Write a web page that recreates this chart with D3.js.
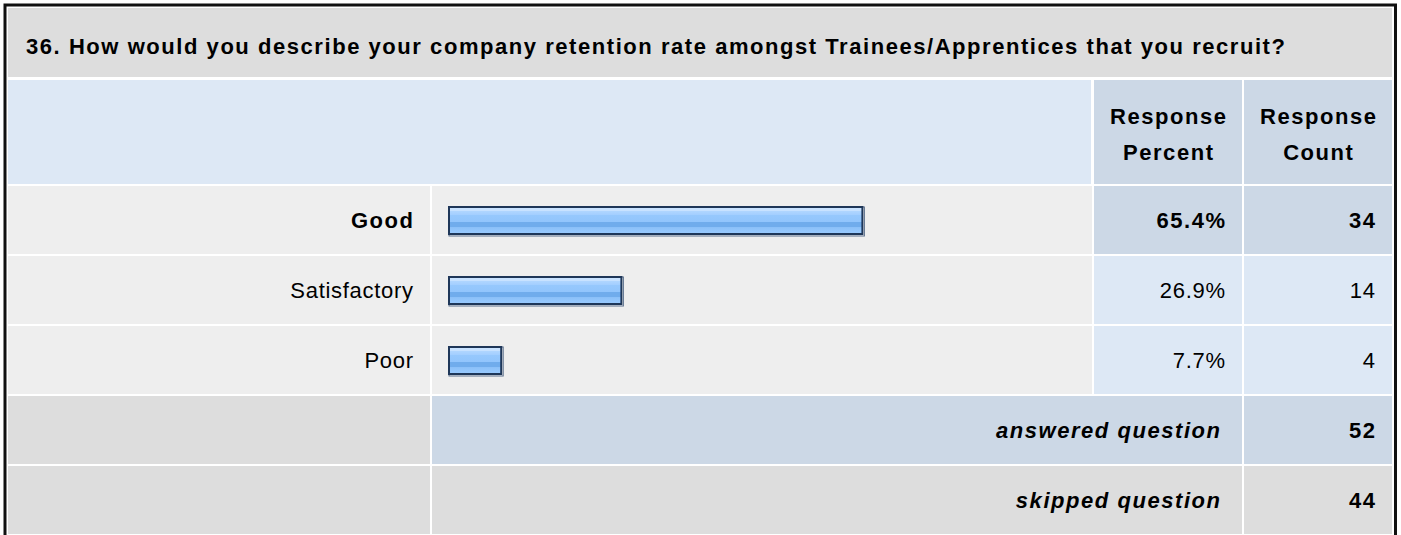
<!DOCTYPE html>
<html>
<head>
<meta charset="utf-8">
<script src="https://cdn.jsdelivr.net/npm/d3@7"></script>
<style>
  html, body { margin: 0; padding: 0; background: #ffffff; }
  svg { display: block; font-family: "Liberation Sans", Arial, sans-serif; }
</style>
</head>
<body>
<svg id="chart" width="1401" height="535"></svg>
<script>
// Survey question and answers
const questionTitle = "36. How would you describe your company retention rate amongst Trainees/Apprentices that you recruit?";
const columnHeaders = [["Response", "Percent"], ["Response", "Count"]];
const categories = ["Good", "Satisfactory", "Poor"];
const percents = [65.4, 26.9, 7.7];
const counts = [34, 14, 4];
const summaryLabels = ["answered question", "skipped question"];
const summaryCounts = [52, 44];

// Table layout
const W = 1401, H = 535;
const left = 8, right = 1392;
const colLabelEnd = 430, colBar = 432, colBarEnd = 1092, colPct = 1094, colPctEnd = 1242, colCnt = 1244;
const titleTop = 8, titleBottom = 77;
const headTop = 80, headBottom = 184;
const rowTop = 186, rowPitch = 70, rowH = 68;
const fontSize = 22;
const spacingBold = 1.55, spacingNormal = 0.7;

const C = {
  gray: "#dddddd",
  light: "#eeeeee",
  headBlue: "#dde8f5",
  midBlue: "#ccd8e6",
  paleBlue: "#dde8f5",
  border: "#111111",
  text: "#000000"
};

const svg = d3.select("#chart");
const g = svg.append("g");

function cell(x0, y0, x1, y1, fill) {
  g.append("rect").attr("x", x0).attr("y", y0)
    .attr("width", x1 - x0).attr("height", y1 - y0).attr("fill", fill);
}
function label(x, yc, txt, anchor, weight, style) {
  const bold = weight === "bold";
  const ls = bold ? spacingBold : spacingNormal;
  // trailing letter spacing would push right-aligned text left; compensate
  const xAdj = anchor === "end" ? x + ls : x;
  return g.append("text").attr("x", xAdj).attr("y", yc).attr("dy", "0.36em")
    .attr("text-anchor", anchor).attr("font-size", fontSize)
    .attr("letter-spacing", ls)
    .attr("font-weight", weight || "normal").attr("font-style", style || "normal")
    .attr("fill", C.text).text(txt);
}

// Title band
cell(left, titleTop, right, titleBottom, C.gray);
label(26, 46, questionTitle, "start", "bold");

// Column header band
cell(left, headTop, colBarEnd - 1, headBottom, C.headBlue);
[[colPct, colPctEnd], [colCnt, right]].forEach(([a, b], i) => {
  cell(a, headTop, b, headBottom, C.midBlue);
  const t = g.append("text").attr("text-anchor", "middle").attr("font-size", fontSize)
    .attr("font-weight", "bold").attr("letter-spacing", spacingBold).attr("fill", C.text);
  columnHeaders[i].forEach((line, j) => {
    t.append("tspan").attr("x", (a + b) / 2 + spacingBold / 2).attr("y", 124 + j * 36).text(line);
  });
});

// Bar scale
const x = d3.scaleLinear().domain([0, 100]).range([0, 626]);
const barX = 448, barH = 29, barPad = 6;

// Bar gradient
const defs = svg.append("defs");
const grad = defs.append("linearGradient").attr("id", "barFill")
  .attr("x1", 0).attr("y1", 0).attr("x2", 0).attr("y2", 1);
[
  [0.00, "#c8e2ff"], [0.14, "#c8e2ff"], [0.15, "#b0d6ff"], [0.28, "#a4cfff"],
  [0.30, "#96c8fd"], [0.55, "#92c5fc"], [0.57, "#70acec"], [0.74, "#70acec"],
  [0.76, "#8cc1f9"], [1.00, "#9acbff"]
].forEach(([o, c]) => grad.append("stop").attr("offset", o).attr("stop-color", c));

const maxPct = d3.max(percents);

categories.forEach((cat, i) => {
  const y0 = rowTop + i * rowPitch, y1 = y0 + rowH, yc = (y0 + y1) / 2;
  const isTop = percents[i] === maxPct;
  cell(left, y0, colLabelEnd, y1, C.light);
  cell(colBar, y0, colBarEnd, y1, C.light);
  cell(colPct, y0, colPctEnd, y1, isTop ? C.midBlue : C.paleBlue);
  cell(colCnt, y0, right, y1, isTop ? C.midBlue : C.paleBlue);

  label(413, yc, cat, "end", isTop ? "bold" : "normal");
  label(1225, yc, percents[i].toFixed(1) + "%", "end", isTop ? "bold" : "normal");
  label(1375, yc, counts[i], "end", isTop ? "bold" : "normal");

  const bw = x(percents[i]) + barPad;
  const by = Math.round(yc - barH / 2);
  // soft outer edge on right/bottom
  g.append("rect").attr("x", barX + 1).attr("y", by + 1).attr("width", bw).attr("height", barH)
    .attr("fill", "none").attr("stroke", "#5a6f8c").attr("stroke-width", 1);
  g.append("rect").attr("x", barX + 1).attr("y", by + 1).attr("width", bw - 2).attr("height", barH - 2)
    .attr("fill", "url(#barFill)").attr("stroke", "#1e3658").attr("stroke-width", 2);
});

// Summary rows
summaryLabels.forEach((lab, k) => {
  const i = categories.length + k;
  const y0 = rowTop + i * rowPitch, y1 = Math.min(y0 + rowH, H), yc = y0 + rowH / 2;
  const midFill = k === 0 ? C.midBlue : C.gray;
  cell(left, y0, colLabelEnd, y1, C.gray);
  cell(colBar, y0, colPctEnd, y1, midFill);
  cell(colCnt, y0, right, y1, midFill);
  label(1220, yc, lab, "end", "bold", "italic");
  label(1375, yc, summaryCounts[k], "end", "bold");
});

// Outer frame
g.append("path")
  .attr("d", `M5,${H} V5 H1395.5 V${H}`)
  .attr("fill", "none").attr("stroke", C.border).attr("stroke-width", 3);
</script>
</body>
</html>
